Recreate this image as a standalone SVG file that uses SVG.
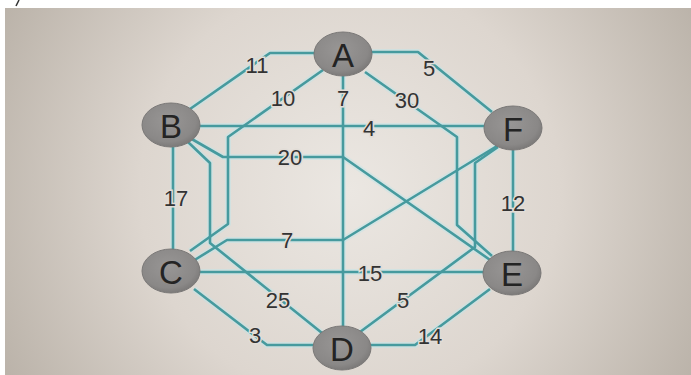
<svg xmlns="http://www.w3.org/2000/svg" width="691" height="375" viewBox="0 0 691 375">
<defs>
<radialGradient id="bg" cx="350" cy="190" r="420" gradientUnits="userSpaceOnUse">
<stop offset="0" stop-color="#ebe7e2"/>
<stop offset="0.5" stop-color="#ddd6cf"/>
<stop offset="1" stop-color="#b5ada3"/>
</radialGradient>
<radialGradient id="nodeFill" cx="0.45" cy="0.4" r="0.6">
<stop offset="0" stop-color="#989695"/>
<stop offset="0.8" stop-color="#8a8887"/>
<stop offset="1" stop-color="#7c7a79"/>
</radialGradient>
<style>
.halo{fill:none;stroke:#bfe6ea;stroke-width:6;stroke-linejoin:round;opacity:0.5}
.edge{fill:none;stroke:#469a9e;stroke-width:2.6;stroke-linejoin:round}
.lbl{font-family:"Liberation Sans",Arial,sans-serif;font-size:22px;fill:#333333;text-anchor:middle;dominant-baseline:central;paint-order:stroke;stroke:#e2ddd7;stroke-width:3px}
.node ellipse{fill:url(#nodeFill);stroke:#7a7877;stroke-width:1}
.node text{font-family:"Liberation Sans",Arial,sans-serif;font-size:33px;fill:#242424;text-anchor:middle;dominant-baseline:central}
</style>
</defs>
<rect x="0" y="0" width="691" height="375" fill="#ffffff"/>
<rect x="5" y="8" width="686" height="367" fill="url(#bg)"/>
<path d="M19,0 L16,6" stroke="#333" stroke-width="1.5" fill="none"/>
<g id="connectors">
<g id="halos">
<path class="halo" d="M320,53 H270 L190,109"/>
<path class="halo" d="M366,52 H418 L492,112"/>
<path class="halo" d="M323,70 L228,137 V224 L190,251"/>
<path class="halo" d="M343,76 V327"/>
<path class="halo" d="M365,72 L457,137 V225 L492,256"/>
<path class="halo" d="M198,126 H486"/>
<path class="halo" d="M190,138 L223,157 H343 L493,262"/>
<path class="halo" d="M188,142 L210,163 V243 L322,333"/>
<path class="halo" d="M173,147 V250"/>
<path class="halo" d="M513,150 V252"/>
<path class="halo" d="M497,146 L343,240 H227 L193,261"/>
<path class="halo" d="M498,147 L475,163 V247 L360,332"/>
<path class="halo" d="M199,272 H484"/>
<path class="halo" d="M194,289 L267,345 H313"/>
<path class="halo" d="M371,345 H415 L490,289"/>
</g>
<path id="e-AB" class="edge" d="M320,53 H270 L190,109"/>
<path id="e-AF" class="edge" d="M366,52 H418 L492,112"/>
<path id="e-AC" class="edge" d="M323,70 L228,137 V224 L190,251"/>
<path id="e-AD" class="edge" d="M343,76 V327"/>
<path id="e-AE" class="edge" d="M365,72 L457,137 V225 L492,256"/>
<path id="e-BF" class="edge" d="M198,126 H486"/>
<path id="e-BE" class="edge" d="M190,138 L223,157 H343 L493,262"/>
<path id="e-BD" class="edge" d="M188,142 L210,163 V243 L322,333"/>
<path id="e-BC" class="edge" d="M173,147 V250"/>
<path id="e-FE" class="edge" d="M513,150 V252"/>
<path id="e-FC" class="edge" d="M497,146 L343,240 H227 L193,261"/>
<path id="e-FD" class="edge" d="M498,147 L475,163 V247 L360,332"/>
<path id="e-CE" class="edge" d="M199,272 H484"/>
<path id="e-CD" class="edge" d="M194,289 L267,345 H313"/>
<path id="e-DE" class="edge" d="M371,345 H415 L490,289"/>
<g id="labels">
<text class="lbl" x="257" y="65">11</text>
<text class="lbl" x="429" y="68">5</text>
<text class="lbl" x="283" y="98">10</text>
<text class="lbl" x="343" y="98">7</text>
<text class="lbl" x="407" y="100">30</text>
<text class="lbl" x="369" y="128">4</text>
<text class="lbl" x="290" y="157">20</text>
<text class="lbl" x="176" y="198">17</text>
<text class="lbl" x="513" y="203">12</text>
<text class="lbl" x="287" y="240">7</text>
<text class="lbl" x="370" y="273">15</text>
<text class="lbl" x="278" y="300">25</text>
<text class="lbl" x="403" y="300">5</text>
<text class="lbl" x="255" y="335">3</text>
<text class="lbl" x="430" y="336">14</text>
</g>
</g>
<g id="node-A" class="node"><ellipse cx="343" cy="54" rx="29" ry="22"/><text x="343" y="55">A</text></g>
<g id="node-B" class="node"><ellipse cx="171" cy="125" rx="29" ry="22"/><text x="171" y="126">B</text></g>
<g id="node-F" class="node"><ellipse cx="513" cy="128" rx="29" ry="22"/><text x="513" y="129">F</text></g>
<g id="node-C" class="node"><ellipse cx="171" cy="271" rx="29" ry="22"/><text x="171" y="272">C</text></g>
<g id="node-E" class="node"><ellipse cx="512" cy="273" rx="29" ry="22"/><text x="512" y="274">E</text></g>
<g id="node-D" class="node"><ellipse cx="342" cy="348" rx="29" ry="22"/><text x="342" y="349">D</text></g>
</svg>
